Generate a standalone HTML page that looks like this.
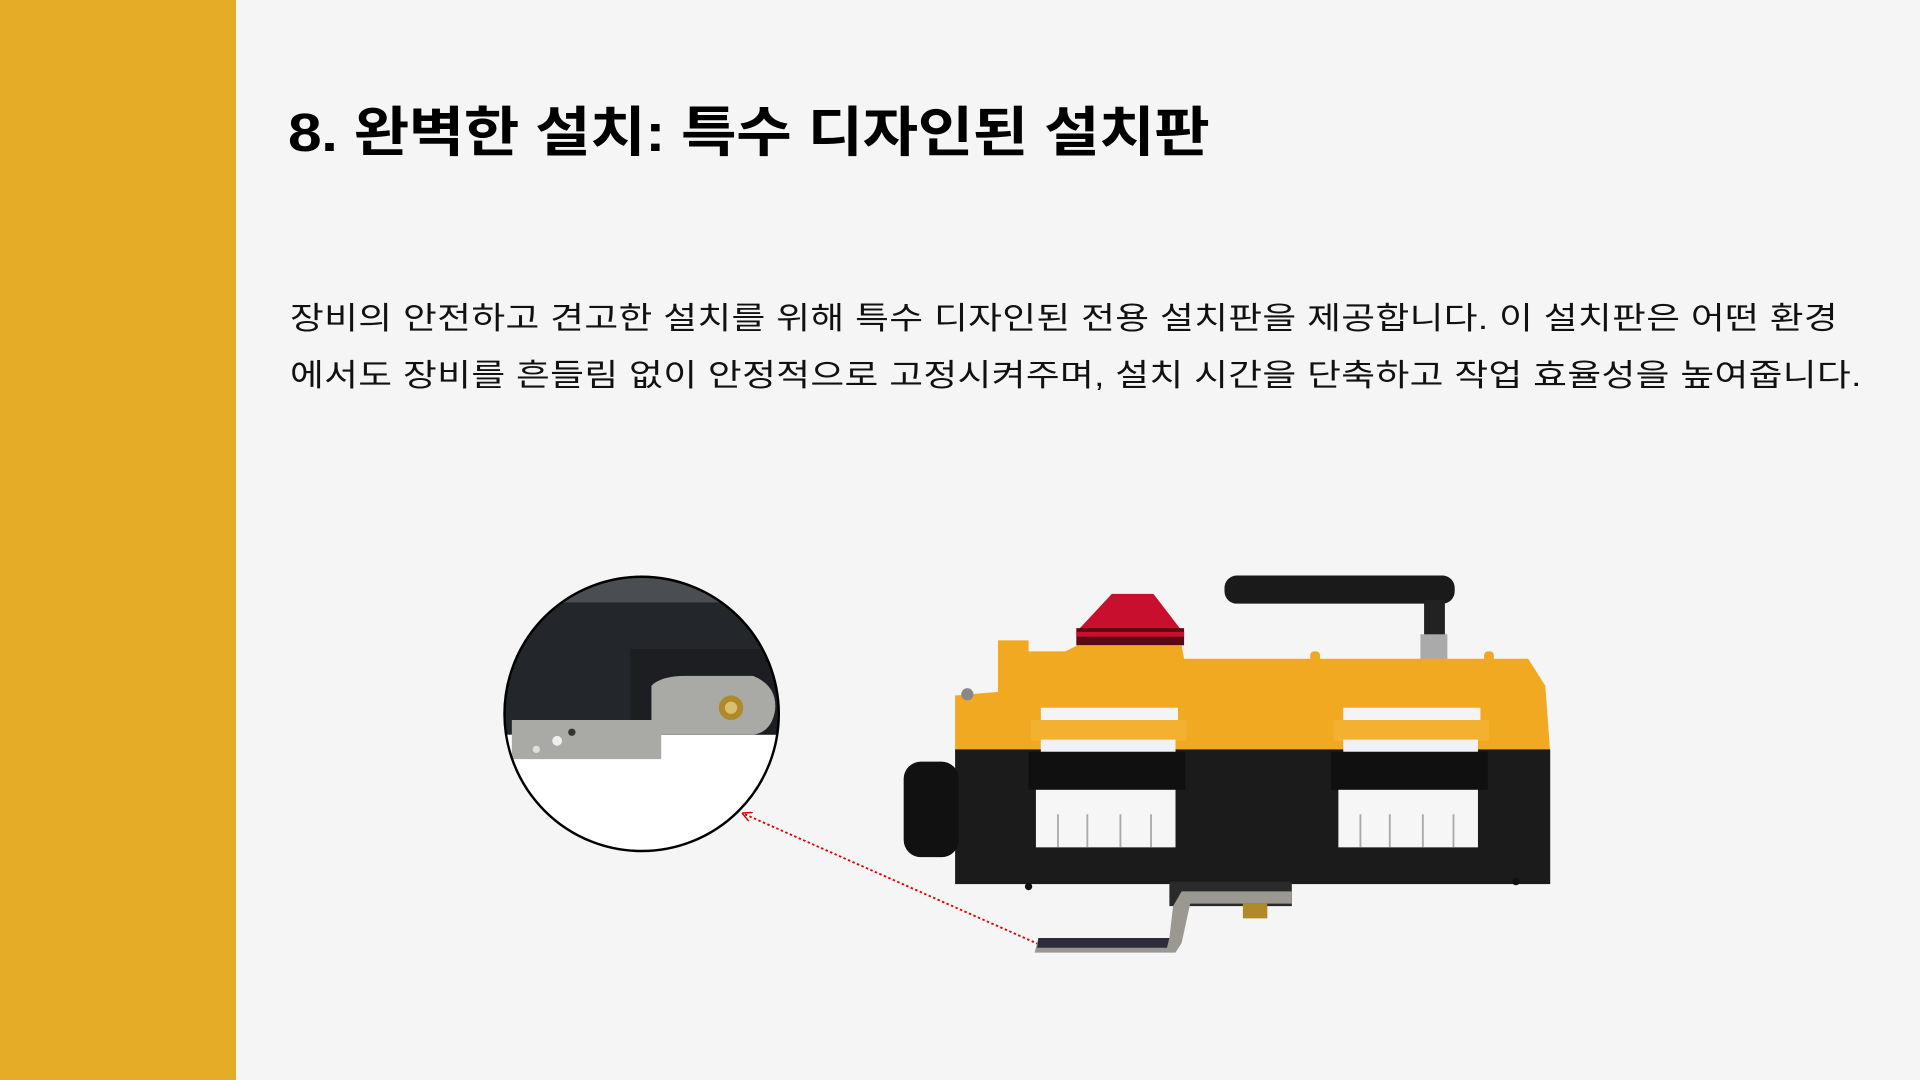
<!DOCTYPE html>
<html><head><meta charset="utf-8"><style>
html,body{margin:0;padding:0}
body{width:1920px;height:1080px;background:#f5f5f5;position:relative;overflow:hidden;font-family:"Liberation Sans","Noto Sans CJK KR",sans-serif}
.side{position:absolute;left:0;top:0;width:236px;height:1080px;background:#E5AC28}
h1{position:absolute;left:288px;top:88px;margin:0;font-size:54px;font-weight:bold;color:#000;white-space:nowrap;letter-spacing:-0.5px;transform:scaleX(1.12);transform-origin:0 0}
.body{position:absolute;left:290px;top:290px;margin:0;font-size:31px;line-height:57px;color:#111;white-space:nowrap;letter-spacing:0.3px;transform:scaleX(1.185);transform-origin:0 0}
svg{position:absolute;left:0;top:0}
</style></head><body>
<div class="side"></div>
<h1>8. 완벽한 설치: 특수 디자인된 설치판</h1>
<p class="body">장비의 안전하고 견고한 설치를 위해 특수 디자인된 전용 설치판을 제공합니다. 이 설치판은 어떤 환경<br>에서도 장비를 흔들림 없이 안정적으로 고정시켜주며, 설치 시간을 단축하고 작업 효율성을 높여줍니다.</p>
<svg width="1920" height="1080" viewBox="0 0 1568 882">
<defs><clipPath id="c"><circle cx="524" cy="583" r="112"/></clipPath>
<marker id="ah" markerWidth="8" markerHeight="8" refX="8" refY="4" orient="auto" markerUnits="userSpaceOnUse"><path d="M0,0 L8,4 L0,8" fill="none" stroke="#d00" stroke-width="1.2"/></marker></defs>
<g clip-path="url(#c)">
<rect x="400" y="460" width="250" height="250" fill="#fff"/>
<rect x="400" y="460" width="250" height="140" fill="#23262b"/>
<rect x="400" y="470" width="250" height="22" fill="#4a4d52"/>
<rect x="515" y="530" width="120" height="70" fill="#1c1e22"/>
<path d="M418,588 L532,588 L532,560 Q540,552 560,552 L615,552 Q635,560 633,580 Q630,598 615,600 L540,600 L540,620 L418,620 Z" fill="#a9a9a6"/>
<circle cx="455" cy="605" r="4" fill="#eee"/><circle cx="467" cy="598" r="3" fill="#333"/><circle cx="438" cy="612" r="3" fill="#ddd"/>
<circle cx="597" cy="578" r="10" fill="#b08a2a"/><circle cx="597" cy="578" r="5" fill="#d9c070"/>
</g>
<circle cx="524" cy="583" r="112" fill="none" stroke="#000" stroke-width="2"/>
<line x1="848" y1="771" x2="606" y2="664" stroke="#d00" stroke-width="1.5" stroke-dasharray="2,2" marker-end="url(#ah)"/>
<rect x="1000" y="470" width="188" height="23" rx="10" fill="#1a1a1a"/>
<rect x="1163" y="490" width="17" height="30" fill="#222"/>
<rect x="1160" y="518" width="22" height="22" fill="#aaa"/>
<path d="M908,485 L942,485 L965,515 L880,515 Z" fill="#c8102e"/>
<rect x="879" y="513" width="88" height="14" fill="#5a0a10"/>
<rect x="879" y="516" width="88" height="4" fill="#c8102e"/>
<path d="M815,523 L840,523 L840,532 L870,532 L880,527 L965,527 L967,538 L1248,538 L1262,560 L1266,615 L780,615 L780,568 L815,565 Z" fill="#F2A922"/>
<circle cx="790" cy="567" r="5" fill="#888"/>
<rect x="1070" y="532" width="8" height="8" rx="3" fill="#F2A922"/>
<rect x="1212" y="532" width="8" height="8" rx="3" fill="#F2A922"/>
<rect x="780" y="612" width="486" height="110" fill="#1b1b1b"/>
<rect x="738" y="622" width="45" height="78" rx="14" fill="#111"/>
<circle cx="840" cy="724" r="3" fill="#111"/><circle cx="1238" cy="720" r="3" fill="#111"/>
<g id="sw">
<rect x="850" y="578" width="112" height="12" fill="#f4f4f4"/>
<rect x="842" y="588" width="127" height="17" fill="#F4B030"/>
<rect x="850" y="604" width="110" height="10" fill="#f0f0f8"/>
<rect x="840" y="614" width="128" height="31" fill="#101010"/>
<rect x="846" y="645" width="114" height="47" fill="#f6f6f6"/>
<path d="M864,665 V692 M888,665 V692 M915,665 V692 M940,665 V692" stroke="#aaa" stroke-width="1.5"/>
</g>
<use href="#sw" transform="translate(247,0)"/>
<rect x="955" y="720" width="100" height="20" fill="#2a2a2a"/>
<rect x="1015" y="738" width="20" height="12" fill="#b08a2a"/>
<path d="M965,728 L1055,728 L1055,738 L972,738 L965,770 L960,778 L845,778 L848,766 L955,766 L958,740 Z" fill="#9a9890"/>
<path d="M848,766 L955,766 L953,774 L847,774 Z" fill="#2c2c3a"/>
</svg>
</body></html>
